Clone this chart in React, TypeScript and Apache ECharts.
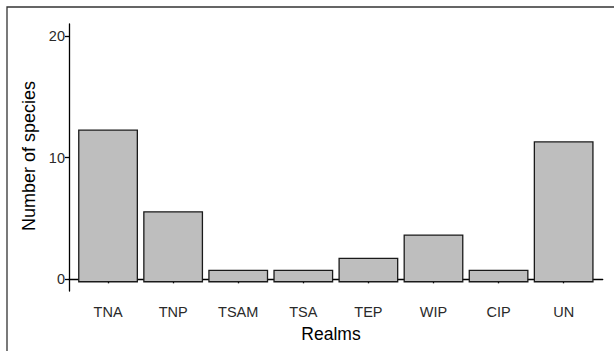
import React, { useEffect, useRef } from "react";
import * as echarts from "echarts";

const categories = ["TNA", "TNP", "TSAM", "TSA", "TEP", "WIP", "CIP", "UN"];
const speciesValues = [12.27, 5.55, 0.74, 0.74, 1.72, 3.64, 0.74, 11.3];
const barBase = -0.2;
const yTicks = [0, 10, 20];
const xTitle = "Realms";
const yTitle = "Number of species";

export default function App() {
  const ref = useRef<HTMLDivElement>(null);
  useEffect(() => {
    if (!ref.current) return;
    const chart = echarts.init(ref.current, null, { renderer: "svg" });
    const font = "'Liberation Sans', Arial, sans-serif";
    const positions = categories.map((_, i) => i + 1);
    chart.setOption({
      animation: false,
      grid: { left: 69, right: 11.3, top: 24, bottom: 60 },
      xAxis: {
        type: "value",
        min: 0.4,
        max: 8.6,
        splitLine: { show: false },
        axisLine: { show: true, lineStyle: { color: "#000", width: 1.3 } },
        axisTick: {
          show: true,
          customValues: positions,
          length: 4,
          lineStyle: { color: "#000", width: 1.3 },
        },
        axisLabel: {
          customValues: positions,
          formatter: (v: number) => categories[Math.round(v) - 1] ?? "",
          color: "#2a2a2a",
          fontSize: 14.5,
          fontFamily: font,
          margin: 13,
        },
      },
      yAxis: {
        type: "value",
        min: -0.96,
        max: 21,
        splitLine: { show: false },
        axisLine: { show: true, lineStyle: { color: "#000", width: 1.3 } },
        axisTick: {
          show: true,
          customValues: yTicks,
          length: 4,
          lineStyle: { color: "#000", width: 1.3 },
        },
        axisLabel: {
          customValues: yTicks,
          color: "#2a2a2a",
          fontSize: 14.5,
          fontFamily: font,
          margin: 4,
        },
      },
      series: [
        {
          type: "custom",
          data: speciesValues.map((v, i) => [i + 1, v]),
          renderItem: (params: any, api: any) => {
            const x = api.value(0);
            const v = api.value(1);
            const p1 = api.coord([x - 0.45, v]);
            const p2 = api.coord([x + 0.45, barBase]);
            return {
              type: "rect",
              shape: { x: p1[0], y: p1[1], width: p2[0] - p1[0], height: p2[1] - p1[1] },
              style: { fill: "#bebebe", stroke: "#1a1a1a", lineWidth: 1.3 },
            };
          },
        },
      ],
      graphic: [
        {
          type: "rect",
          shape: { x: 7, y: 7, width: 700, height: 500 },
          style: { fill: "none", stroke: "#333", lineWidth: 1.3 },
          silent: true,
        },
        {
          type: "text",
          x: 331,
          y: 334,
          style: {
            text: xTitle,
            fontSize: 17.5,
            fontFamily: font,
            fill: "#000",
            align: "center",
            verticalAlign: "middle",
          },
        },
        {
          type: "text",
          x: 29,
          y: 156,
          rotation: Math.PI / 2,
          style: {
            text: yTitle,
            fontSize: 18,
            fontFamily: font,
            fill: "#000",
            align: "center",
            verticalAlign: "middle",
          },
        },
      ],
    });
    return () => chart.dispose();
  }, []);
  return (
    <div
      ref={ref}
      style={{ position: "fixed", left: 0, top: 0, width: 614, height: 351, background: "#fff" }}
    />
  );
}
